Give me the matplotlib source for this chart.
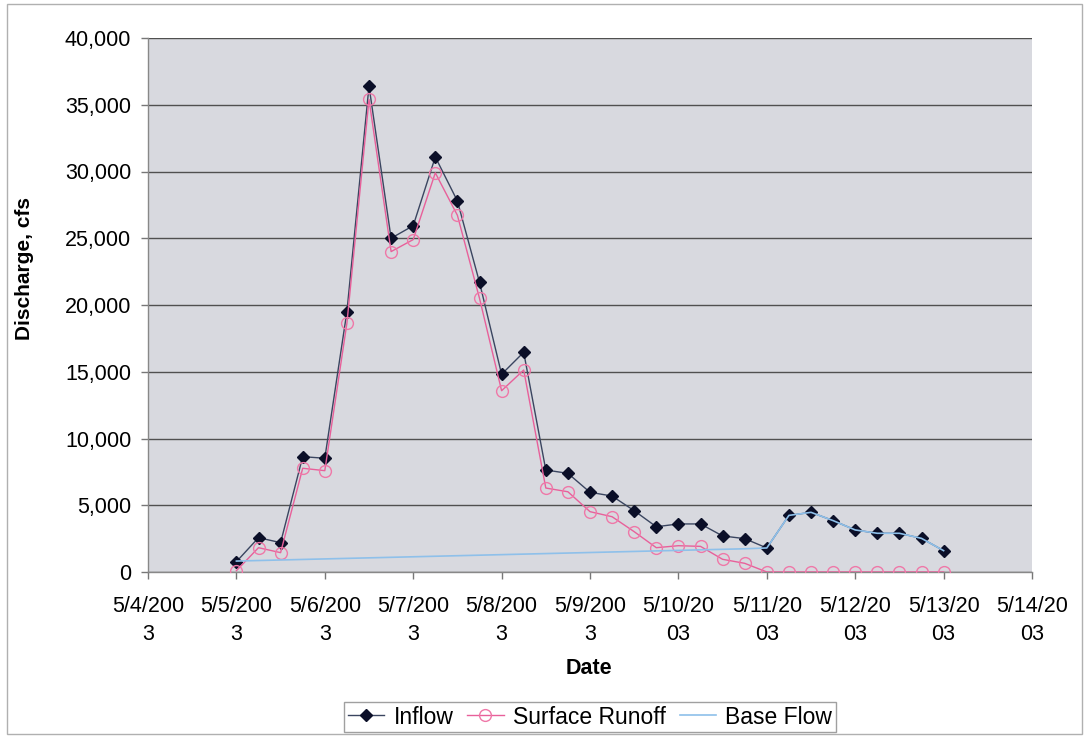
import matplotlib
matplotlib.use("Agg")
import matplotlib.pyplot as plt
import pandas as pd
from matplotlib.patches import Rectangle

plt.rcParams['font.family'] = ['Liberation Sans', 'DejaVu Sans']

# 6-hourly observation times, 5/5/2003 00:00 through 5/13/2003 00:00
times = pd.date_range('2003-05-05', periods=33, freq='6h')

inflow = [770, 2570, 2200, 8640, 8520, 19500, 36400, 25000, 25940, 31090,
          27790, 21700, 14810, 16460, 7640, 7390, 5970, 5690, 4590, 3390,
          3600, 3600, 2700, 2500, 1800, 4240, 4470, 3850, 3150, 2900,
          2900, 2520, 1600]

surface_runoff = [100, 1820, 1450, 7770, 7590, 18630, 35400, 24000, 24900, 29900,
                  26720, 20500, 13580, 15130, 6290, 6010, 4520, 4140, 3020, 1820,
                  1970, 1920, 950, 650, 0, 0, 0, 0, 0, 0,
                  0, 0, 0]

base_flow = [820, 860, 900, 940, 980, 1020, 1060, 1100, 1140, 1180,
             1220, 1260, 1300, 1340, 1380, 1420, 1460, 1500, 1540, 1580,
             1620, 1660, 1700, 1740, 1800, 4240, 4470, 3850, 3150, 2900,
             2900, 2520, 1600]

tick_dates = pd.date_range('2003-05-04', '2003-05-14', freq='D')
tick_labels = ['5/4/200\n3', '5/5/200\n3', '5/6/200\n3', '5/7/200\n3', '5/8/200\n3',
               '5/9/200\n3', '5/10/20\n03', '5/11/20\n03', '5/12/20\n03',
               '5/13/20\n03', '5/14/20\n03']
y_ticks = [0, 5000, 10000, 15000, 20000, 25000, 30000, 35000, 40000]

W, H = 1086, 737
fig = plt.figure(figsize=(W / 100, H / 100), dpi=100)
fig.patch.set_facecolor('white')
ax = fig.add_axes([148 / W, 1 - 572 / H, (1032 - 148) / W, (572 - 38) / H])
ax.set_facecolor('#d8d9df')

ax.plot(times, inflow, color='#3a4560', lw=1.0, marker='D', markersize=6.5,
        markerfacecolor='#0b0f28', markeredgecolor='#0b0f28', label='Inflow', zorder=3)
ax.plot(times, surface_runoff, color='#e8609a', lw=1.0, marker='o', markersize=8.5,
        markerfacecolor='none', markeredgecolor='#ef78a8', markeredgewidth=1.0,
        label='Surface Runoff', zorder=4)
ax.plot(times, base_flow, color='#8ec0ea', lw=1.2, label='Base Flow', zorder=5)

ax.set_xlim(tick_dates[0], tick_dates[-1])
ax.set_ylim(0, 40000)
ax.set_xticks(tick_dates)
ax.set_xticklabels(tick_labels, fontsize=15.5, linespacing=1.45)
ax.set_yticks(y_ticks)
ax.set_yticklabels([f'{v:,}' for v in y_ticks], fontsize=15.5)
ax.tick_params(axis='x', direction='out', length=5, width=1, color='#777777', pad=12)
ax.tick_params(axis='y', direction='out', length=5, width=1, color='#777777', pad=7)
ax.yaxis.grid(True, color='#505050', lw=1.0)
ax.set_axisbelow(True)
for s in ['top', 'right']:
    ax.spines[s].set_visible(False)
for s in ['left', 'bottom']:
    ax.spines[s].set_color('#888888')
    ax.spines[s].set_linewidth(1.0)

fig.text(25 / W, 1 - 268 / H, 'Discharge, cfs', rotation=90, fontsize=15,
         fontweight='bold', ha='center', va='center')
fig.text(589 / W, 1 - 668 / H, 'Date', fontsize=15.5, fontweight='bold',
         ha='center', va='center')

leg = fig.legend(loc='center', bbox_to_anchor=(590 / W, 1 - 717 / H), ncol=3,
                 fontsize=16.5, frameon=True, fancybox=False, edgecolor='#888888',
                 handlelength=1.6, handletextpad=0.4, columnspacing=0.6,
                 borderpad=0.15, borderaxespad=0)
leg.get_frame().set_linewidth(1.0)

fig.patches.append(Rectangle((7 / W, 3 / H), (1082 - 7) / W, (733 - 3) / H,
                             transform=fig.transFigure, fill=False,
                             edgecolor='#b0b0b0', lw=1.0))

fig.savefig('out.png', dpi=100)
